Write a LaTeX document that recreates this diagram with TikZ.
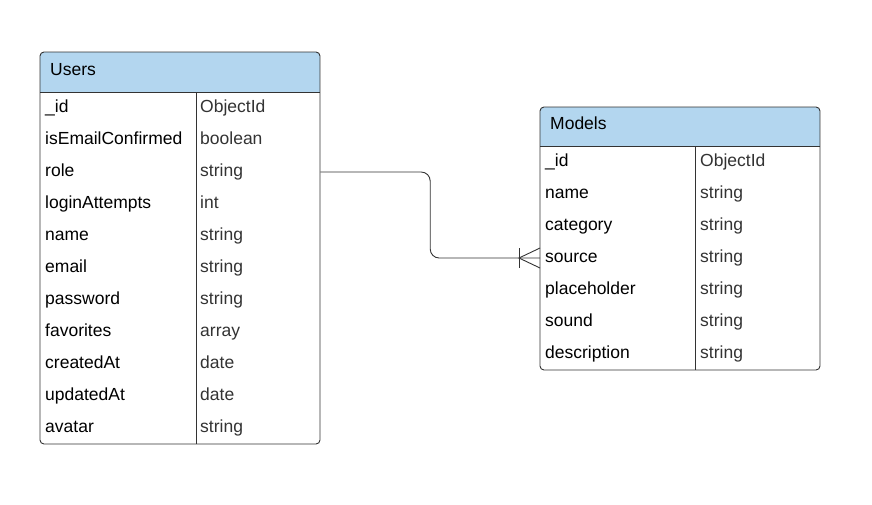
\documentclass[tikz,border=0pt]{standalone}
\usepackage{fontspec}
\setmainfont{Liberation Sans}
\usetikzlibrary{calc}
\definecolor{hdr}{RGB}{179,214,239}
\definecolor{edgec}{RGB}{51,51,51}
\definecolor{typc}{RGB}{51,51,51}
\begin{document}
\begin{tikzpicture}[x=1pt,y=-1pt,
  tblbox/.style={fill=white, inner sep=0pt, anchor=north west, minimum width=280pt},
  tblline/.style={draw=edgec, line width=0.9pt},
  fld/.style={anchor=base west, inner sep=0pt, font=\fontsize{17.5}{20}\selectfont, text=black},
  typ/.style={fld, text=typc},
  conn/.style={draw=edgec, line width=0.9pt}]
\useasboundingbox (0,0) rectangle (872,504);
\fill[white] (0,0) rectangle (872,504);

% ---------- Users ----------
\node[tblbox, minimum height=392pt] (users) at (40,52) {};
\begin{scope}
  \clip[rounded corners=4pt] (40,52) rectangle (320,444);
  \fill[hdr] (40,52) rectangle (320,92);
\end{scope}
\draw[tblline] (40,92) -- (320,92);
\draw[tblline] (196,92) -- (196,444);
\draw[tblline, rounded corners=4pt] (40,52) rectangle (320,444);
\node[fld] (users-title) at (50,75.5) {Users};
\foreach \f/\t [count=\i] in {\_id/ObjectId, isEmailConfirmed/boolean, role/string,
  loginAttempts/int, name/string, email/string, password/string, favorites/array,
  createdAt/date, updatedAt/date, avatar/string} {
  \coordinate (u-r\i) at (180, 92+32*\i-16);
  \node[fld] (u-f\i) at (45, 92+32*\i-12) {\f};
  \node[typ] (u-t\i) at (200, 92+32*\i-12) {\t};
}

% ---------- Models ----------
\node[tblbox, minimum height=263pt] (models) at (540,107) {};
\begin{scope}
  \clip[rounded corners=4pt] (540,107) rectangle (820,370);
  \fill[hdr] (540,107) rectangle (820,146);
\end{scope}
\draw[tblline] (540,146) -- (820,146);
\draw[tblline] (695,146) -- (695,370);
\draw[tblline, rounded corners=4pt] (540,107) rectangle (820,370);
\node[fld] (models-title) at (550,129.8) {Models};
\foreach \f/\t [count=\i] in {\_id/ObjectId, name/string, category/string,
  source/string, placeholder/string, sound/string, description/string} {
  \coordinate (m-r\i) at (680, 146+32*\i-16);
  \node[fld] (m-f\i) at (545, 146+32*\i-12) {\f};
  \node[typ] (m-t\i) at (700, 146+32*\i-12) {\t};
}

% ---------- Relationship ----------
\coordinate (ustart) at (users.east |- u-r3);
\coordinate (mend) at (models.west |- m-r4);
\coordinate (bend) at ($(users.east)!0.5!(models.west)$);
\draw[conn, rounded corners=9pt] (ustart) -| (bend |- mend) -- (mend);
% crow's foot (many)
\draw[conn] ($(mend)+(-21,-10)$) -- ($(mend)+(-21,10)$);
\draw[conn] ($(mend)+(0,-10)$) -- ($(mend)+(-21,0)$) -- ($(mend)+(0,10)$);
\end{tikzpicture}
\end{document}
